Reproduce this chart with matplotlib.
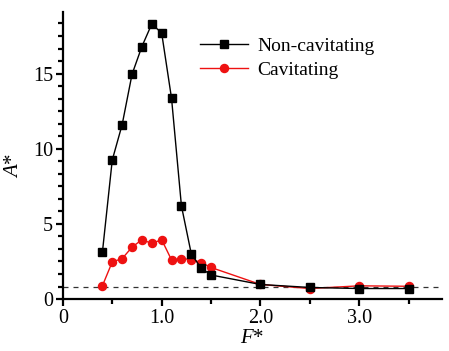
import matplotlib.pyplot as plt
from matplotlib.ticker import MultipleLocator, FixedLocator

# F* values (shared by both series)
f_star = [0.4, 0.5, 0.6, 0.7, 0.8, 0.9, 1.0, 1.1, 1.2, 1.3, 1.4, 1.5, 2.0, 2.5, 3.0, 3.5]

# A* values
a_noncav = [3.1, 9.25, 11.6, 14.95, 16.8, 18.3, 17.7, 13.35, 6.2, 3.0, 2.05, 1.6, 0.97, 0.77, 0.7, 0.7]
a_cav = [0.88, 2.47, 2.69, 3.45, 3.95, 3.7, 3.95, 2.6, 2.69, 2.63, 2.43, 2.1, 0.97, 0.7, 0.88, 0.85]

ref_level = 0.8

plt.rcParams['font.family'] = ['Liberation Serif', 'DejaVu Serif']
plt.rcParams['mathtext.fontset'] = 'custom'
plt.rcParams['mathtext.rm'] = 'Liberation Serif'
plt.rcParams['mathtext.it'] = 'Liberation Serif:italic'

fig = plt.figure(figsize=(4.49, 3.51), dpi=100)
ax = fig.add_axes([0.140, 0.148, 0.845, 0.818])

ax.axhline(ref_level, color='#333333', lw=0.9, ls=(0, (4, 4)), zorder=1)

ax.plot(f_star, a_noncav, color='black', lw=1.0, marker='s', ms=5.2,
        label='Non-cavitating', zorder=3)
ax.plot(f_star, a_cav, color='#ee1111', lw=1.0, marker='o', ms=5.8,
        label='Cavitating', zorder=2)

ax.set_xlim(0, 3.84)
ax.set_ylim(0, 19.1)

ax.spines['top'].set_visible(False)
ax.spines['right'].set_visible(False)
for s in ('left', 'bottom'):
    ax.spines[s].set_linewidth(1.6)

ax.set_xticks([0, 1, 2, 3])
ax.set_xticklabels(['0', '1.0', '2.0', '3.0'])
ax.xaxis.set_minor_locator(FixedLocator([0.5, 1.5, 2.5, 3.5]))
ax.set_yticks([0, 5, 10, 15])
ax.yaxis.set_minor_locator(MultipleLocator(5 / 6))

ax.tick_params(axis='both', which='major', direction='out', length=5, width=1.6,
               labelsize=14.5, pad=2)
ax.tick_params(axis='both', which='minor', direction='out', length=3.5, width=1.6)

ax.set_xlabel('$F$*', fontsize=15, labelpad=1)
ax.set_ylabel('$A$*', fontsize=15)
ax.yaxis.set_label_coords(-0.105, 0.467)

ax.legend(loc='upper left', bbox_to_anchor=(0.362, 0.912), frameon=False,
          fontsize=14, handlelength=2.45, handletextpad=0.5, labelspacing=0.35,
          borderpad=0, borderaxespad=0)

fig.savefig('out.png', dpi=100)
